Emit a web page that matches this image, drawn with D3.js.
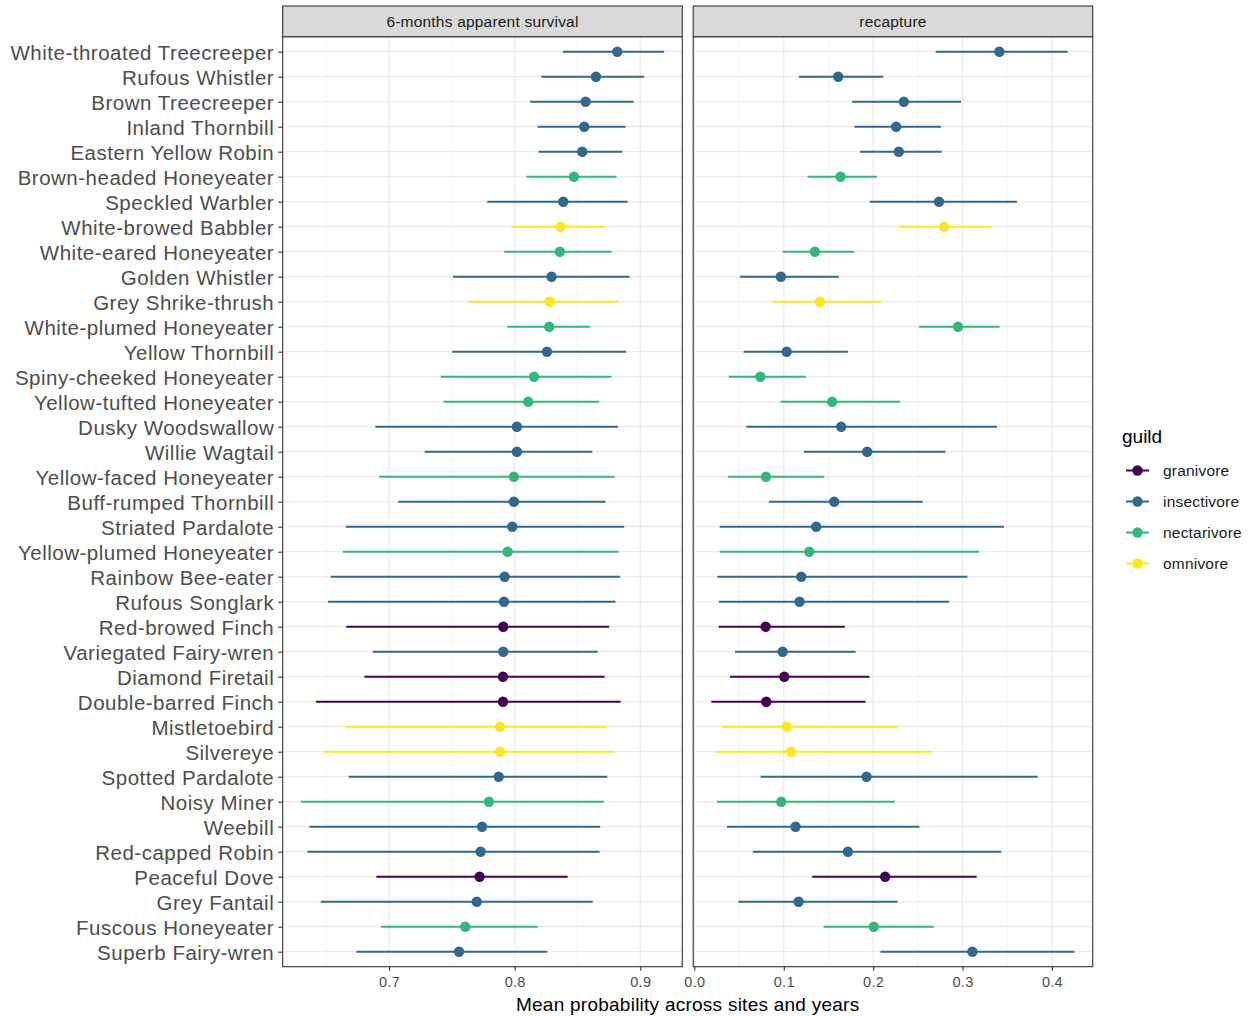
<!DOCTYPE html>
<html><head><meta charset="utf-8">
<script src="https://cdn.jsdelivr.net/npm/d3@7"></script>
<style>body{margin:0;background:#fff}svg{display:block;font-family:"Liberation Sans",Arial,sans-serif}</style>
</head><body><svg id="c" width="1251" height="1016"></svg>
<script>
const species = ["White-throated Treecreeper","Rufous Whistler","Brown Treecreeper","Inland Thornbill","Eastern Yellow Robin","Brown-headed Honeyeater","Speckled Warbler","White-browed Babbler","White-eared Honeyeater","Golden Whistler","Grey Shrike-thrush","White-plumed Honeyeater","Yellow Thornbill","Spiny-cheeked Honeyeater","Yellow-tufted Honeyeater","Dusky Woodswallow","Willie Wagtail","Yellow-faced Honeyeater","Buff-rumped Thornbill","Striated Pardalote","Yellow-plumed Honeyeater","Rainbow Bee-eater","Rufous Songlark","Red-browed Finch","Variegated Fairy-wren","Diamond Firetail","Double-barred Finch","Mistletoebird","Silvereye","Spotted Pardalote","Noisy Miner","Weebill","Red-capped Robin","Peaceful Dove","Grey Fantail","Fuscous Honeyeater","Superb Fairy-wren"];
const guildOf = ["insectivore","insectivore","insectivore","insectivore","insectivore","nectarivore","insectivore","omnivore","nectarivore","insectivore","omnivore","nectarivore","insectivore","nectarivore","nectarivore","insectivore","insectivore","nectarivore","insectivore","insectivore","nectarivore","insectivore","insectivore","granivore","insectivore","granivore","granivore","omnivore","omnivore","insectivore","nectarivore","insectivore","insectivore","granivore","insectivore","nectarivore","insectivore"];
const guilds = ["granivore","insectivore","nectarivore","omnivore"];
const guildColors = ["#440154","#31688E","#35B779","#FDE725"];
const panels = ["6-months apparent survival","recapture"];
// survival: mean, lower, upper
const survMean = [0.8817,0.8647,0.8565,0.8554,0.8538,0.8472,0.8387,0.8366,0.8360,0.8294,0.8278,0.8275,0.8257,0.8154,0.8108,0.8018,0.8018,0.7994,0.7994,0.7981,0.7944,0.7920,0.7915,0.7909,0.7909,0.7907,0.7907,0.7883,0.7883,0.7873,0.7796,0.7740,0.7729,0.7721,0.7698,0.7607,0.7557];
const survLow = [0.8384,0.8212,0.8124,0.8183,0.8191,0.8095,0.7782,0.7973,0.7917,0.7509,0.7631,0.7941,0.7504,0.7411,0.7435,0.6891,0.7284,0.6923,0.7074,0.6656,0.6632,0.6536,0.6515,0.6660,0.6870,0.6804,0.6419,0.6648,0.6481,0.6679,0.6298,0.6366,0.6350,0.6899,0.6457,0.6936,0.6740];
const survHigh = [0.9190,0.9031,0.8947,0.8883,0.8856,0.8811,0.8899,0.8718,0.8772,0.8915,0.8827,0.8599,0.8888,0.8772,0.8673,0.8822,0.8618,0.8795,0.8723,0.8872,0.8827,0.8840,0.8803,0.8752,0.8660,0.8716,0.8843,0.8737,0.8790,0.8737,0.8710,0.8681,0.8676,0.8422,0.8621,0.8183,0.8259];
const recMean = [0.3412,0.1609,0.2343,0.2257,0.2287,0.1635,0.2737,0.2793,0.1348,0.0968,0.1404,0.2950,0.1032,0.0737,0.1542,0.1642,0.1933,0.0801,0.1564,0.1363,0.1285,0.1196,0.1177,0.0797,0.0987,0.1006,0.0804,0.1032,0.1080,0.1926,0.0972,0.1132,0.1717,0.2134,0.1166,0.2007,0.3110];
const recLow = [0.2700,0.1169,0.1765,0.1791,0.1855,0.1266,0.1963,0.2291,0.0987,0.0510,0.0868,0.2514,0.0551,0.0384,0.0965,0.0581,0.1225,0.0376,0.0834,0.0283,0.0283,0.0257,0.0276,0.0272,0.0454,0.0399,0.0190,0.0313,0.0238,0.0741,0.0253,0.0365,0.0655,0.1318,0.0492,0.1445,0.2082];
const recHigh = [0.4175,0.2112,0.2983,0.2760,0.2767,0.2041,0.3609,0.3322,0.1788,0.1616,0.2093,0.3415,0.1717,0.1248,0.2302,0.3385,0.2808,0.1453,0.2555,0.3464,0.3184,0.3054,0.2849,0.1683,0.1803,0.1959,0.1914,0.2272,0.2641,0.3840,0.2242,0.2518,0.3434,0.3158,0.2272,0.2678,0.4253];
const survTicks = [0.7,0.8,0.9];
const recTicks = [0,0.1,0.2,0.3,0.4];
const xTitle = "Mean probability across sites and years";

const svg = d3.select("#c");
const color = d3.scaleOrdinal().domain(guilds).range(guildColors);
const pTop = 36.7, pBottom = 966.7;
const n = species.length;
const y = d3.scaleLinear().domain([0.4, n + 0.6]).range([pTop, pBottom]);
const yPos = i => y(i + 1);

function makeX(lo, hi, r0, r1) {
  const span = hi - lo, e = span * 0.05;
  return d3.scaleLinear().domain([lo - e, hi + e]).range([r0, r1]);
}
const survData = species.map((s, i) => ({s, g: guildOf[i], m: survMean[i], lo: survLow[i], hi: survHigh[i], i}));
const recData = species.map((s, i) => ({s, g: guildOf[i], m: recMean[i], lo: recLow[i], hi: recHigh[i], i}));
const panelDefs = [
  {title: panels[0], data: survData, ticks: survTicks, x0: 282.7, x1: 682.3, fmt: d3.format(".1f")},
  {title: panels[1], data: recData, ticks: recTicks, x0: 693.2, x1: 1092.7, fmt: d3.format(".1f")}
];
panelDefs.forEach((p, pi) => {
  const lo = d3.min(p.data, d => d.lo), hi = d3.max(p.data, d => d.hi);
  const x = makeX(lo, hi, p.x0, p.x1);
  const g = svg.append("g");
  const step = p.ticks[1] - p.ticks[0];
  const minors = [];
  for (let t = p.ticks[0] - step / 2; t <= x.domain()[1]; t += step) {
    if (t >= x.domain()[0]) minors.push(t);
  }
  g.selectAll(".mn").data(minors).join("line")
    .attr("x1", d => x(d)).attr("x2", d => x(d)).attr("y1", pTop).attr("y2", pBottom)
    .attr("stroke", "#F1F1F1").attr("stroke-width", 1);
  g.selectAll(".mj").data(p.ticks).join("line")
    .attr("x1", d => x(d)).attr("x2", d => x(d)).attr("y1", pTop).attr("y2", pBottom)
    .attr("stroke", "#EBEBEB").attr("stroke-width", 1.3);
  g.selectAll(".hg").data(species).join("line")
    .attr("x1", p.x0).attr("x2", p.x1).attr("y1", (d, i) => yPos(i)).attr("y2", (d, i) => yPos(i))
    .attr("stroke", "#EBEBEB").attr("stroke-width", 1.3);
  g.selectAll(".rg").data(p.data).join("line")
    .attr("x1", d => x(d.lo)).attr("x2", d => x(d.hi))
    .attr("y1", d => yPos(d.i)).attr("y2", d => yPos(d.i))
    .attr("stroke", d => color(d.g)).attr("stroke-width", 2);
  g.selectAll(".pt").data(p.data).join("circle")
    .attr("cx", d => x(d.m)).attr("cy", d => yPos(d.i)).attr("r", 5.2)
    .attr("fill", d => color(d.g));
  g.append("rect").attr("x", p.x0).attr("y", pTop).attr("width", p.x1 - p.x0).attr("height", pBottom - pTop)
    .attr("fill", "none").attr("stroke", "#333333").attr("stroke-width", 1.1);
  g.append("rect").attr("x", p.x0).attr("y", 6).attr("width", p.x1 - p.x0).attr("height", pTop - 6)
    .attr("fill", "#D9D9D9").attr("stroke", "#333333").attr("stroke-width", 1.1);
  g.append("text").attr("x", (p.x0 + p.x1) / 2).attr("y", 26.5).attr("text-anchor", "middle")
    .attr("font-size", 15.5).attr("letter-spacing", "0.2px").attr("fill", "#1A1A1A").text(p.title);
  const ax = svg.append("g").attr("transform", `translate(0,${pBottom})`)
    .call(d3.axisBottom(x).tickValues(p.ticks).tickFormat(p.fmt).tickSizeOuter(0).tickSize(4).tickPadding(6));
  ax.select(".domain").remove();
  ax.selectAll(".tick line").attr("stroke", "#333333").attr("stroke-width", 1.1);
  ax.selectAll("text").attr("fill", "#4D4D4D").attr("font-size", 14.5).attr("letter-spacing", "0.3px")
    .attr("font-family", "Liberation Sans, Arial, sans-serif");
});
const ay = svg.append("g").attr("transform", "translate(282.7,0)")
  .call(d3.axisLeft(d3.scalePoint().domain(species).range([yPos(0), yPos(n - 1)])).tickSize(4.5).tickPadding(4));
ay.select(".domain").remove();
ay.selectAll(".tick line").attr("stroke", "#333333").attr("stroke-width", 1.1);
ay.selectAll("text").attr("fill", "#4D4D4D").attr("font-size", 20.5).attr("letter-spacing", "0.5px")
  .attr("dy", "0.37em").attr("font-family", "Liberation Sans, Arial, sans-serif");
svg.append("text").attr("x", 687.7).attr("y", 1010.5).attr("text-anchor", "middle")
  .attr("font-size", 19).attr("letter-spacing", "0.25px").attr("fill", "#000").text(xTitle);
const lg = svg.append("g");
lg.append("text").attr("x", 1122).attr("y", 443).attr("font-size", 19).attr("fill", "#000").text("guild");
guilds.forEach((gname, k) => {
  const yy = 470.5 + k * 31;
  lg.append("line").attr("x1", 1126).attr("x2", 1149).attr("y1", yy).attr("y2", yy)
    .attr("stroke", color(gname)).attr("stroke-width", 2);
  lg.append("circle").attr("cx", 1137.5).attr("cy", yy).attr("r", 5.2).attr("fill", color(gname));
  lg.append("text").attr("x", 1163).attr("y", yy + 5.5).attr("font-size", 15.5).attr("letter-spacing", "0.2px")
    .attr("fill", "#1A1A1A").text(gname);
});
</script></body></html>
